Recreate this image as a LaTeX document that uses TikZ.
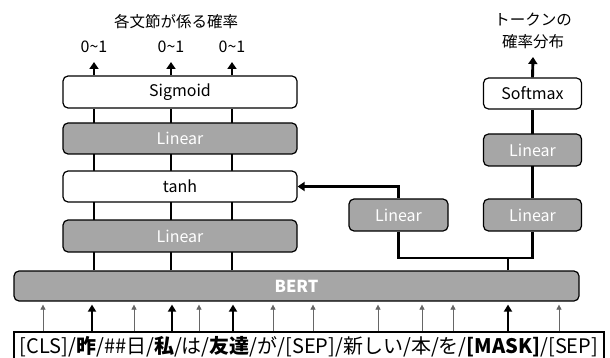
\documentclass[tikz,border=0pt]{standalone}
\usepackage{fontspec}
\setmainfont{Noto Sans CJK JP}
\usetikzlibrary{arrows.meta,backgrounds}
\definecolor{gfill}{HTML}{A6A6A6}
\begin{document}
\begin{tikzpicture}[x=1pt,y=-1pt,
  box/.style={draw=black, line width=1.2pt, rounded corners=5pt, inner sep=0pt},
  wbox/.style={box, fill=white, text=black, font=\fontsize{16}{16}\selectfont},
  gbox/.style={box, fill=gfill, text=white, font=\fontsize{16}{16}\selectfont},
  lbl/.style={inner sep=0pt, text=black},
  thickln/.style={line width=2.9pt, black},
  arr/.style={thickln, -{Triangle[length=7pt,width=9pt]}},
  inarr/.style={line width=2.6pt, black, -{Triangle[length=7pt,width=8pt]}},
  thinarr/.style={line width=0.7pt, black!60, -{Triangle[length=5pt,width=5pt]}}
]
\useasboundingbox (0,0) rectangle (610,358);

% left column boxes
\node[wbox, minimum width=234pt, minimum height=32pt] (sig) at (180,92) {Sigmoid};
\node[gbox, minimum width=234pt, minimum height=31pt] (lin1) at (180,138.5) {Linear};
\node[wbox, minimum width=234pt, minimum height=31pt] (tanh) at (180,186.5) {tanh};
\node[gbox, minimum width=234pt, minimum height=32pt] (lin2) at (180,236) {Linear};

% right boxes
\node[wbox, minimum width=98pt, minimum height=31pt] (soft) at (532.5,93.5) {Softmax};
\node[gbox, minimum width=98pt, minimum height=32pt] (linR1) at (532.5,150) {Linear};
\node[gbox, minimum width=98pt, minimum height=32pt] (linR2) at (532.5,215) {Linear};
\node[gbox, minimum width=99pt, minimum height=32pt] (linM) at (398.5,215) {Linear};

% BERT
\node[gbox, minimum width=565pt, minimum height=30pt, font=\fontsize{16.5}{16.5}\selectfont\bfseries] (bert) at (296.5,286) {BERT};

% tokens
\node[draw=black, line width=1.2pt, fill=white, minimum width=590pt, minimum height=30pt, inner sep=0pt,
      font=\fontsize{20}{20}\selectfont] (tok) at (309,347)
  {[CLS]/\textbf{昨}/\#\#日/\textbf{私}/は/\textbf{友達}/が/[SEP]/新しい/本/を/\textbf{[MASK]}/[SEP]};

% labels
\node[lbl, font=\fontsize{15.5}{15.5}\selectfont] (title) at (176,22) {各文節が係る確率};
\node[lbl, font=\fontsize{16}{16}\selectfont] (o1) at (94,47) {0\textasciitilde 1};
\node[lbl, font=\fontsize{16}{16}\selectfont] (o2) at (171,47) {0\textasciitilde 1};
\node[lbl, font=\fontsize{16}{16}\selectfont] (o3) at (232,47) {0\textasciitilde 1};
\node[lbl, font=\fontsize{15.5}{22}\selectfont, align=center] (rt) at (533,31) {トークンの\\確率分布};

% coordinates
\coordinate (a1) at (94,62);
\coordinate (a2) at (171,62);
\coordinate (a3) at (232,62);
\coordinate (ar) at (533,57);
\coordinate (jn) at (508,258);

\begin{scope}[on background layer]
  \foreach \c in {a1,a2,a3}{
    \draw[thickln] (bert.north -| \c) -- (sig.south -| \c);
  }
  \draw[thickln] (linR2.north) -- (soft.south);
\end{scope}

\foreach \c in {a1,a2,a3}{
  \draw[arr] (sig.north -| \c) -- (\c);
}
\draw[arr] (soft.north) -- (ar);

% branch from BERT
\draw[thickln] (bert.north -| jn) -- (jn);
\draw[thickln] (linM.south) |- (jn) -| (linR2.south);
\draw[arr] (linM.north) |- (tanh.east);

% input arrows
\foreach \x in {43,134,199,273,313,378,422,453,559}{
  \coordinate (t\x) at (\x,0);
  \draw[thinarr, shorten >=3pt] (tok.north -| t\x) -- (bert.south -| t\x);
}
\foreach \x in {92,172,233,508}{
  \coordinate (T\x) at (\x,0);
  \draw[inarr, shorten >=3pt] (tok.north -| T\x) -- (bert.south -| T\x);
}
\end{tikzpicture}
\end{document}
